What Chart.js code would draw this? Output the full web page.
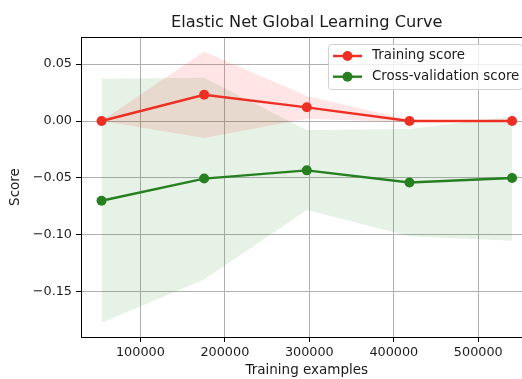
<!DOCTYPE html>
<html lang="en">
<head>
  <meta charset="UTF-8">
  <title>Elastic Net Global Learning Curve</title>
  <script src="https://cdn.jsdelivr.net/npm/chart.js"></script>
  <style>
    html, body { margin: 0; padding: 0; background: #fff; overflow: hidden; }
    #wrap { width: 545px; height: 379px; }
  </style>
</head>
<body>
  <div id="wrap"><canvas id="chart" width="545" height="379"></canvas></div>

  <script>
    // values
    var chartTitle = 'Elastic Net Global Learning Curve';
    var trainSizes = [54000, 175500, 297000, 418500, 540000];

    var trainScore = [0.000, 0.023, 0.012, 0.000, 0.000];
    var trainUpper = [0.000, 0.061, 0.022, 0.001, 0.000];
    var trainLower = [0.000, -0.015, 0.002, -0.001, 0.000];

    var cvScore = [-0.070, -0.0505, -0.0433, -0.054, -0.050];
    var cvUpper = [0.037, 0.038, -0.008, -0.007, 0.004];
    var cvLower = [-0.177, -0.139, -0.078, -0.101, -0.105];

    var xTicks = [100000, 200000, 300000, 400000, 500000];
    var yTicks = [0.05, 0.00, -0.05, -0.10, -0.15];

    var redLine = 'rgb(238,48,36)';
    var greenLine = 'rgb(38,128,32)';
    var font = 'DejaVu Sans';
    var textColor = '#1a1a1a';

    function pts(ys) {
      return trainSizes.map(function(x, i) { return {x: x, y: ys[i]}; });
    }

    function band(label, ys, color, fill) {
      return {
        label: label,
        data: pts(ys),
        borderWidth: 0,
        pointRadius: 0,
        backgroundColor: color,
        fill: fill,
        tension: 0
      };
    }

    function line(label, ys, color) {
      return {
        label: label,
        data: pts(ys),
        borderColor: color,
        backgroundColor: color,
        borderWidth: 2.4,
        pointRadius: 5,
        pointBorderWidth: 0,
        fill: false,
        tension: 0
      };
    }

    // title, frame and legend like matplotlib
    var extras = {
      id: 'extras',
      afterDraw: function(chart) {
        var ctx = chart.ctx;
        var a = chart.chartArea;
        ctx.save();

        ctx.strokeStyle = '#000';
        ctx.lineWidth = 1;
        ctx.strokeRect(Math.round(a.left) + 0.5, Math.round(a.top) + 0.5,
                       Math.round(a.right - a.left), Math.round(a.bottom - a.top));

        ctx.fillStyle = textColor;
        ctx.font = '16.2px "' + font + '"';
        ctx.textAlign = 'center';
        ctx.textBaseline = 'middle';
        ctx.fillText(chartTitle, (a.left + a.right) / 2, 22.5);

        // legend box
        var bx = 328.5, by = 44.5, bw = 194, bh = 45;
        ctx.beginPath();
        ctx.roundRect(bx, by, bw, bh, 3);
        ctx.fillStyle = 'rgba(255,255,255,0.8)';
        ctx.fill();
        ctx.strokeStyle = '#d0d0d0';
        ctx.stroke();

        var rows = [chart.data.datasets[0], chart.data.datasets[1]];
        rows.forEach(function(ds, i) {
          var y = 56 + i * 20.7;
          ctx.strokeStyle = ds.borderColor;
          ctx.lineWidth = 2.4;
          ctx.beginPath();
          ctx.moveTo(333, y);
          ctx.lineTo(362, y);
          ctx.stroke();
          ctx.fillStyle = ds.borderColor;
          ctx.beginPath();
          ctx.arc(347.5, y, 5, 0, Math.PI * 2);
          ctx.fill();
          ctx.fillStyle = textColor;
          ctx.font = '13.4px "' + font + '"';
          ctx.textAlign = 'left';
          ctx.fillText(ds.label, 372, y);
        });
        ctx.restore();
      }
    };

    var ctx = document.getElementById('chart').getContext('2d');
    var chart = new Chart(ctx, {
      type: 'line',
      data: {
        datasets: [
          line('Training score', trainScore, redLine),
          line('Cross-validation score', cvScore, greenLine),
          band('train upper', trainUpper, 'rgba(255,0,0,0.1)', '+1'),
          band('train lower', trainLower, 'rgba(255,0,0,0)', false),
          band('cv upper', cvUpper, 'rgba(0,128,0,0.1)', '+1'),
          band('cv lower', cvLower, 'rgba(0,128,0,0)', false)
        ]
      },
      plugins: [extras],
      options: {
        responsive: false,
        animation: false,
        devicePixelRatio: 1,
        layout: { padding: { left: 0, right: 12.4, top: 37, bottom: 0 } },
        plugins: {
          legend: { display: false },
          tooltip: { enabled: false },
          title: { display: false }
        },
        scales: {
          x: {
            type: 'linear',
            min: 29700,
            max: 564300,
            afterFit: function(s) { s.height = 42; },
            afterBuildTicks: function(s) { s.ticks = xTicks.map(function(v) { return {value: v}; }); },
            grid: { color: '#b0b0b0', lineWidth: 1, tickColor: '#000', tickLength: 5 },
            border: { display: false },
            ticks: {
              color: textColor, padding: 3, maxRotation: 0,
              font: { family: font, size: 12.8 },
              callback: function(v) { return String(v); }
            },
            title: {
              display: true, text: 'Training examples', color: textColor,
              font: { family: font, size: 13.5 }, padding: { top: 0, bottom: 0 }
            }
          },
          y: {
            min: -0.1895,
            max: 0.0737,
            afterFit: function(s) { s.width = 81; },
            afterBuildTicks: function(s) { s.ticks = yTicks.map(function(v) { return {value: v}; }); },
            grid: { color: '#b0b0b0', lineWidth: 1, tickColor: '#000', tickLength: 5 },
            border: { display: false },
            ticks: {
              color: textColor, padding: 4,
              font: { family: font, size: 12.8 },
              callback: function(v) { return v.toFixed(2).replace('-', '\u2212'); }
            },
            title: {
              display: true, text: 'Score', color: textColor,
              font: { family: font, size: 13.5 }, padding: { top: 7, bottom: 0 }
            }
          }
        }
      }
    });
  </script>
</body>
</html>
